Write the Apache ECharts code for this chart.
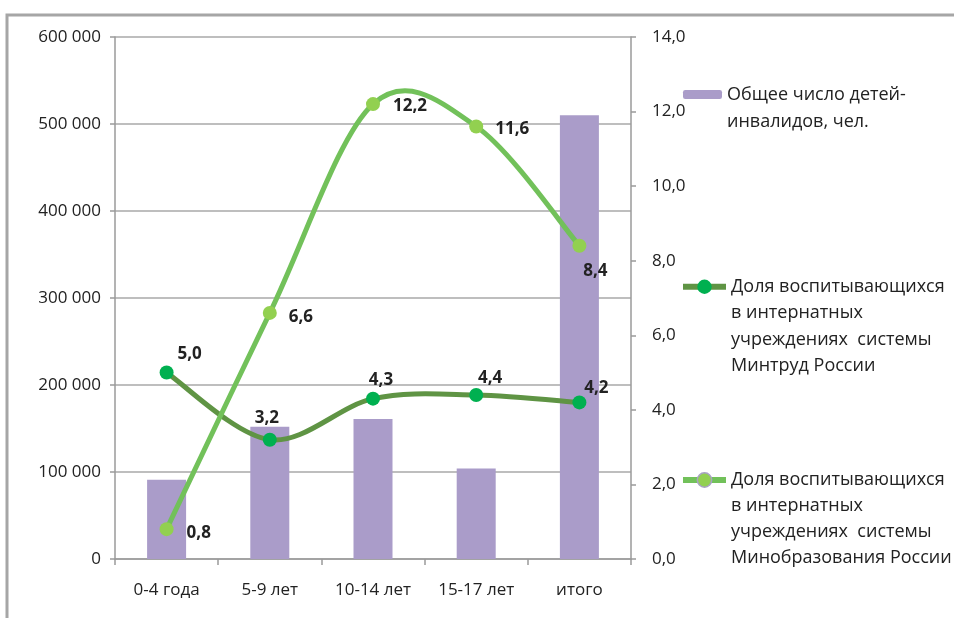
<!DOCTYPE html>
<html>
<head>
<meta charset="utf-8">
<script src="https://cdn.jsdelivr.net/npm/echarts@6/dist/echarts.min.js"></script>
<style>
  html, body { margin: 0; padding: 0; background: #fff; }
  #chart { width: 954px; height: 618px; }
</style>
</head>
<body>
<div id="chart"></div>
<script>
// Age groups on the category axis
const categories = ['0-4 года', '5-9 лет', '10-14 лет', '15-17 лет', 'итого'];

// Total number of disabled children, persons (left axis)
const totalChildren = [91000, 152000, 161000, 104000, 510000];

// Share raised in residential institutions, % (right axis)
const shareMintrud = [5.0, 3.2, 4.3, 4.4, 4.2];
const shareMinobr = [0.8, 6.6, 12.2, 11.6, 8.4];

// Series names shown in the legend
const nameTotal = 'Общее число детей-\nинвалидов, чел.';
const nameMintrud = 'Доля воспитывающихся\nв интернатных\nучреждениях  системы\nМинтруд России';
const nameMinobr = 'Доля воспитывающихся\nв интернатных\nучреждениях  системы\nМинобразования России';

// Value label placement per point
const mintrudLabelPos = [
  { position: 'top', offset: [23, 2] },
  { position: 'top', offset: [-3, -1] },
  { position: 'top', offset: [8, 2] },
  { position: 'top', offset: [14, 4] },
  { position: 'top', offset: [17, 6] }
];
const minobrLabelPos = [
  { position: 'right', offset: [8, 4] },
  { position: 'right', offset: [7, 4] },
  { position: 'right', offset: [8, 2] },
  { position: 'right', offset: [7, 3] },
  { position: 'bottom', offset: [16, 5] }
];

const FONT = '"Open Sans", "Noto Sans", sans-serif';
const fmtComma = v => v.toFixed(1).replace('.', ',');
const fmtThousands = v => String(v).replace(/\B(?=(\d{3})+(?!\d))/g, ' ');

const COLOR_BAR = '#aa9cc9';
const COLOR_MINTRUD_LINE = '#5f9444';
const COLOR_MINTRUD_DOT = '#00b050';
const COLOR_MINOBR_LINE = '#72c15a';
const COLOR_MINOBR_DOT = '#92d050';

// Smooth spline segment (Catmull-Rom style, tension 1/6) between points i and i+1,
// placed through the chart's own coordinate mapping.
function splineSegment(values, color, width) {
  return function (params, api) {
    const i = api.value(0);
    const n = values.length;
    const pt = k => {
      const kk = Math.max(0, Math.min(n - 1, k));
      return api.coord([kk, values[kk]]);
    };
    const p0 = pt(i - 1), p1 = pt(i), p2 = pt(i + 1), p3 = pt(i + 2);
    const c1 = [p1[0] + (p2[0] - p0[0]) / 6, p1[1] + (p2[1] - p0[1]) / 6];
    const c2 = [p2[0] - (p3[0] - p1[0]) / 6, p2[1] - (p3[1] - p1[1]) / 6];
    return {
      type: 'bezierCurve',
      shape: {
        x1: p1[0], y1: p1[1], x2: p2[0], y2: p2[1],
        cpx1: c1[0], cpy1: c1[1], cpx2: c2[0], cpy2: c2[1]
      },
      style: { stroke: color, lineWidth: width, fill: null, lineCap: 'round' }
    };
  };
}
const segmentIndices = values => values.slice(0, -1).map((v, i) => [i]);

const chart = echarts.init(document.getElementById('chart'), null, { renderer: 'canvas' });

// Legend text is centred on its icon; leading blank lines keep the icon beside the first line.
const legendText = lh => ({ fontFamily: FONT, fontSize: 18, color: '#222', lineHeight: lh });
const iconOnFirstLine = name => '\n'.repeat(name.split('\n').length - 1) + name;

chart.setOption({
  animation: false,
  backgroundColor: '#fff',
  graphic: [{
    type: 'rect',
    shape: { x: 7, y: 15, width: 1200, height: 900 },
    style: { fill: 'none', stroke: '#a6a6a6', lineWidth: 3 },
    silent: true
  }],
  grid: { left: 115, right: 323, top: 37, bottom: 59 },
  legend: [
    {
      data: [nameTotal], left: 683, top: 54, orient: 'vertical', padding: 0,
      itemWidth: 39, itemHeight: 9, textStyle: legendText(27),
      formatter: iconOnFirstLine
    },
    {
      data: [{ name: nameMintrud, lineStyle: { opacity: 1, width: 6 } }],
      left: 680, top: 194, orient: 'vertical', padding: 0,
      itemWidth: 43, itemHeight: 18, textStyle: legendText(26.5),
      formatter: iconOnFirstLine
    },
    {
      data: [{
        name: nameMinobr, lineStyle: { opacity: 1, width: 6 },
        itemStyle: { borderColor: '#a7a2c2', borderWidth: 1.5 }
      }],
      left: 680, top: 389, orient: 'vertical', padding: 0,
      itemWidth: 43, itemHeight: 18, textStyle: legendText(26),
      formatter: iconOnFirstLine
    }
  ],
  xAxis: {
    type: 'category',
    data: categories,
    boundaryGap: true,
    axisLine: { lineStyle: { color: '#9a9a9a', width: 1.5 } },
    axisTick: { show: true, length: 6, lineStyle: { color: '#9a9a9a', width: 1.5 } },
    axisLabel: { fontFamily: FONT, fontSize: 17, color: '#222', margin: 23 }
  },
  yAxis: [
    {
      type: 'value', min: 0, max: 600000, interval: 100000,
      axisLine: { show: true, lineStyle: { color: '#9a9a9a', width: 1.5 } },
      axisTick: { show: true, length: 5, lineStyle: { color: '#9a9a9a', width: 1.5 } },
      splitLine: { show: true, lineStyle: { color: '#a8a8a8', width: 1.5 } },
      axisLabel: { fontFamily: FONT, fontSize: 17, color: '#222', margin: 14, formatter: fmtThousands }
    },
    {
      type: 'value', min: 0, max: 14, interval: 2,
      axisLine: { show: true, lineStyle: { color: '#9a9a9a', width: 1.5 } },
      axisTick: { show: true, length: 5, lineStyle: { color: '#9a9a9a', width: 1.5 } },
      splitLine: { show: false },
      axisLabel: { fontFamily: FONT, fontSize: 17, color: '#222', margin: 21, formatter: fmtComma }
    }
  ],
  series: [
    {
      name: nameTotal,
      type: 'bar',
      yAxisIndex: 0,
      data: totalChildren,
      barWidth: 39,
      itemStyle: { color: COLOR_BAR }
    },
    {
      type: 'custom',
      yAxisIndex: 1,
      data: segmentIndices(shareMintrud),
      renderItem: splineSegment(shareMintrud, COLOR_MINTRUD_LINE, 5),
      silent: true,
      z: 3
    },
    {
      type: 'custom',
      yAxisIndex: 1,
      data: segmentIndices(shareMinobr),
      renderItem: splineSegment(shareMinobr, COLOR_MINOBR_LINE, 5),
      silent: true,
      z: 4
    },
    {
      name: nameMintrud,
      type: 'line',
      yAxisIndex: 1,
      data: shareMintrud.map((v, i) => ({ value: v, label: mintrudLabelPos[i] })),
      symbol: 'circle',
      symbolSize: 14,
      lineStyle: { color: COLOR_MINTRUD_LINE, width: 5, opacity: 0 },
      itemStyle: { color: COLOR_MINTRUD_DOT },
      label: {
        show: true, fontFamily: FONT, fontSize: 17, fontWeight: 'bold', color: '#222',
        formatter: p => fmtComma(p.value)
      },
      z: 5
    },
    {
      name: nameMinobr,
      type: 'line',
      yAxisIndex: 1,
      data: shareMinobr.map((v, i) => ({ value: v, label: minobrLabelPos[i] })),
      symbol: 'circle',
      symbolSize: 14,
      lineStyle: { color: COLOR_MINOBR_LINE, width: 5, opacity: 0 },
      itemStyle: { color: COLOR_MINOBR_DOT },
      label: {
        show: true, fontFamily: FONT, fontSize: 17, fontWeight: 'bold', color: '#222',
        formatter: p => fmtComma(p.value)
      },
      z: 6
    }
  ]
});
</script>
</body>
</html>
